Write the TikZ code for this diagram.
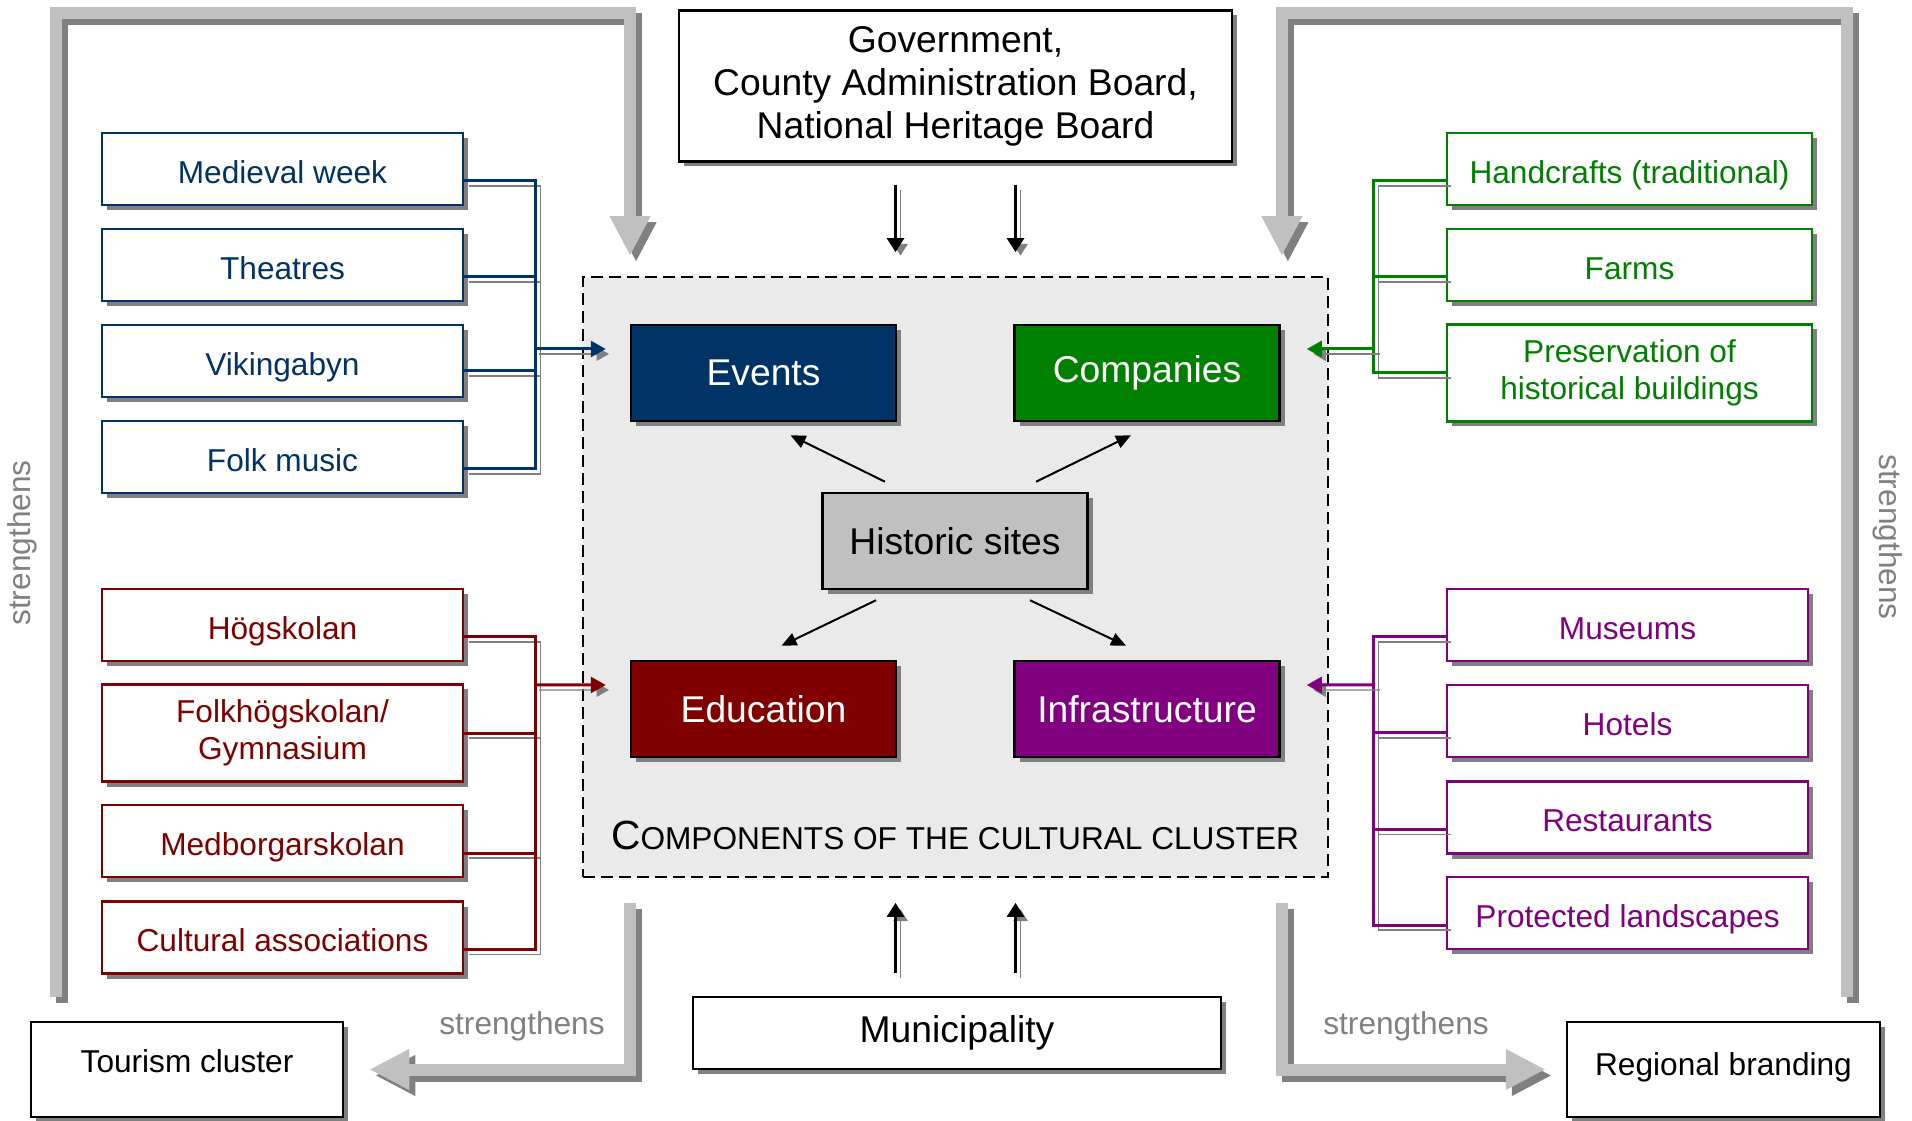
\documentclass[tikz,border=0pt]{standalone}
\usepackage{fontspec}
\setmainfont{Liberation Sans}
\usetikzlibrary{arrows.meta,shadows}

\definecolor{cnavy}{HTML}{003366}
\definecolor{cgrn}{HTML}{008000}
\definecolor{cmaroon}{HTML}{800000}
\definecolor{cviolet}{HTML}{800080}
\definecolor{shadowgray}{HTML}{808080}
\definecolor{bargray}{HTML}{C0C0C0}
\definecolor{panelgray}{HTML}{EAEAEA}

\tikzstyle{shadowed}   = [drop shadow={shadow xshift=0.05cm, shadow yshift=-0.05cm, fill=shadowgray, opacity=1}]
\tikzstyle{lineshadow} = [preaction={draw=shadowgray, transform canvas={shift={(0.05cm,-0.05cm)}}}]
\tikzstyle{mainbox} = [shadowed, draw=black, fill=white, line width=0.025cm, inner sep=0pt, align=center, font=\fontsize{10.6}{12.2}\selectfont]
\tikzstyle{corebox} = [mainbox, minimum width=2.65cm, minimum height=0.96cm, text=white]
\tikzstyle{sidebox} = [shadowed, fill=white, line width=0.025cm, inner sep=0pt, align=center, font=\fontsize{9}{10.4}\selectfont]
\tikzstyle{oneline} = [minimum height=0.72cm, text height=8pt, text depth=0pt]
\tikzstyle{twoline} = [minimum height=0.97cm]
\tikzstyle{feed}    = [lineshadow, line width=0.03cm]
\tikzstyle{feedtip} = [feed, -{Triangle[length=0.15cm,width=0.16cm]}]
\tikzstyle{push}    = [lineshadow, line width=0.03cm, -{Triangle[length=0.14cm,width=0.17cm]}]
\tikzstyle{link}    = [line width=0.02cm, -{Triangle[length=0.15cm,width=0.13cm]}]
\tikzstyle{wide}    = [line width=0.12cm, -{Triangle[length=0.4cm,width=0.38cm]}]
\tikzstyle{note}    = [text=shadowgray, font=\fontsize{9}{10.4}\selectfont]

% the four "strengthens" arrows, drawn once per layer
\def\loops#1#2{
  \begin{scope}[transform canvas={shift={(#2,-#2)}}]
    \draw[wide, draw=#1, shorten >=0.2cm] (lfoot) -- (ltop) -| ([xshift=4.8mm]cluster.north west);
    \draw[wide, draw=#1, shorten >=0.2cm] (rfoot) -- (rtop) -| ([xshift=-4.7mm]cluster.north east);
    \draw[wide, draw=#1, shorten >=0.25cm] ([shift={(4.8mm,-2.5mm)}]cluster.south west) |- (tour.east);
    \draw[wide, draw=#1, shorten >=0.2cm] ([shift={(-4.7mm,-2.5mm)}]cluster.south east) |- (reg.west);
  \end{scope}
}

\begin{document}
\begin{tikzpicture}
  \useasboundingbox (0,0) rectangle (19.12,11.2);

  % the cluster and its parts
  \node[draw, fill=panelgray, line width=0.018cm, dash pattern=on 0.12cm off 0.06cm,
        minimum width=7.45cm, minimum height=6cm] (cluster) at (9.555,5.43) {};
  \node[font=\fontsize{9}{10.4}\selectfont] (caption) at (9.55,2.85)
    {{\fontsize{11.6}{12}\selectfont C}OMPONENTS OF THE CULTURAL CLUSTER};
  \node[corebox, fill=cnavy]    (events) at (7.635,7.47) {Events};
  \node[corebox, fill=cgrn]     (comp)   at (11.47,7.47) {Companies};
  \node[corebox, fill=bargray, text=black] (hist) at (9.55,5.79) {Historic sites};
  \node[corebox, fill=cmaroon]  (edu)    at (7.635,4.11) {Education};
  \node[corebox, fill=cviolet]  (infra)  at (11.47,4.11) {Infrastructure};

  \draw[link] ([shift={(-0.70,0.10)}]hist.north) -- ([shift={(0.27,-0.13)}]events.south);
  \draw[link] ([shift={(0.81,0.10)}]hist.north)  -- ([shift={(-0.16,-0.13)}]comp.south);
  \draw[link] ([shift={(-0.79,-0.10)}]hist.south) -- ([shift={(0.18,0.14)}]edu.north);
  \draw[link] ([shift={(0.75,-0.10)}]hist.south)  -- ([shift={(-0.21,0.14)}]infra.north);

  % top and bottom actors
  \node[mainbox, minimum width=5.53cm, minimum height=1.51cm] (gov) at (9.555,10.34)
    {Government,\\County Administration Board,\\National Heritage Board};
  \node[mainbox, minimum width=5.28cm, minimum height=0.72cm] (muni) at (9.57,0.87) {Municipality};
  \node[mainbox, font=\fontsize{9}{10.4}\selectfont, minimum width=3.12cm, minimum height=0.95cm,
        text depth=0.9ex] (tour) at (1.87,0.505) {Tourism cluster};
  \node[mainbox, font=\fontsize{9}{10.4}\selectfont, minimum width=3.13cm, minimum height=0.95cm,
        text depth=0.6ex] (reg) at (17.235,0.505) {Regional branding};

  \foreach \dx in {-6mm, 6mm} {
    \draw[push, shorten <=0.22cm, shorten >=0.24cm] ([xshift=\dx]gov.south) -- ([xshift=\dx]cluster.north);
    \draw[push, shorten <=0.23cm, shorten >=0.25cm] ([xshift=\dx]cluster.south |- muni.north) -- ([xshift=\dx]cluster.south);
  }

  % side boxes
  \foreach \n/\y/\s/\t in {med/9.51/oneline/Medieval week, thea/8.55/oneline/Theatres,
                           vik/7.59/oneline/Vikingabyn, folk/6.63/oneline/Folk music}
    \node[sidebox, \s, draw=cnavy, text=cnavy, minimum width=3.61cm] (\n) at (2.825,\y) {\t};
  \foreach \n/\y/\s/\t in {hog/4.95/oneline/Högskolan, folkh/3.87/twoline/{Folkhögskolan/\\Gymnasium},
                           medb/2.79/oneline/Medborgarskolan, cult/1.825/oneline/Cultural associations}
    \node[sidebox, \s, draw=cmaroon, text=cmaroon, minimum width=3.61cm] (\n) at (2.825,\y) {\t};
  \foreach \n/\y/\s/\t in {hand/9.51/oneline/Handcrafts (traditional), farm/8.55/oneline/Farms,
                           pres/7.47/twoline/{Preservation of\\historical buildings}}
    \node[sidebox, \s, draw=cgrn, text=cgrn, minimum width=3.65cm] (\n) at (16.295,\y) {\t};
  \foreach \n/\y/\s/\t in {mus/4.95/oneline/Museums, hot/3.99/oneline/Hotels,
                           rest/3.025/oneline/Restaurants, prot/2.07/oneline/Protected landscapes}
    \node[sidebox, \s, draw=cviolet, text=cviolet, minimum width=3.61cm] (\n) at (16.275,\y) {\t};

  % feeders
  \draw[feed, cnavy] ([yshift=-1.2mm]med.east) -- ++(0.71,0) |- ([yshift=-1.2mm]folk.east)
        ([yshift=-1.2mm]thea.east) -- ++(0.71,0) ([yshift=-1.0mm]vik.east) -- ++(0.71,0);
  \draw[feed, cmaroon] ([yshift=-1.2mm]hog.east) -- ++(0.71,0) |- ([yshift=-1.2mm]cult.east)
        (folkh.east) -- ++(0.71,0) ([yshift=-1.2mm]medb.east) -- ++(0.71,0);
  \draw[feed, cgrn] ([yshift=-1.2mm]hand.west) -- ++(-0.72,0) |- (pres.west)
        ([yshift=-1.2mm]farm.west) -- ++(-0.72,0);
  \draw[feed, cviolet] ([yshift=-1.2mm]mus.west) -- ++(-0.72,0) |- ([yshift=-1.2mm]prot.west)
        ([yshift=-1.2mm]hot.west) -- ++(-0.72,0) ([yshift=-1.2mm]rest.west) -- ++(-0.72,0);

  \coordinate (lbus) at (5.34,7.71);
  \coordinate (rbus) at (5.34,4.35);
  \coordinate (gbus) at (13.75,7.71);
  \coordinate (pbus) at (13.75,4.35);
  \draw[feedtip, cnavy]   (lbus) -- ([shift={(-0.24,0.24)}]events.west);
  \draw[feedtip, cmaroon] (rbus) -- ([shift={(-0.24,0.24)}]edu.west);
  \draw[feedtip, cgrn]    (gbus) -- ([shift={(0.26,0.24)}]comp.east);
  \draw[feedtip, cviolet] (pbus) -- ([shift={(0.26,0.24)}]infra.east);

  % strengthens loops
  \coordinate (lfoot) at (0.56,1.23);
  \coordinate (ltop)  at (0.56,11.07);
  \coordinate (rfoot) at (18.47,1.23);
  \coordinate (rtop)  at (18.47,11.07);
  \loops{shadowgray}{0.06cm}
  \loops{bargray}{0cm}

  \node[note, rotate=90]  (sl)  at (0.22,5.77)  {strengthens};
  \node[note, rotate=-90] (sr)  at (18.88,5.83) {strengthens};
  \node[note]             (sbl) at (5.22,0.94)  {strengthens};
  \node[note]             (sbr) at (14.06,0.94) {strengthens};
\end{tikzpicture}
\end{document}
